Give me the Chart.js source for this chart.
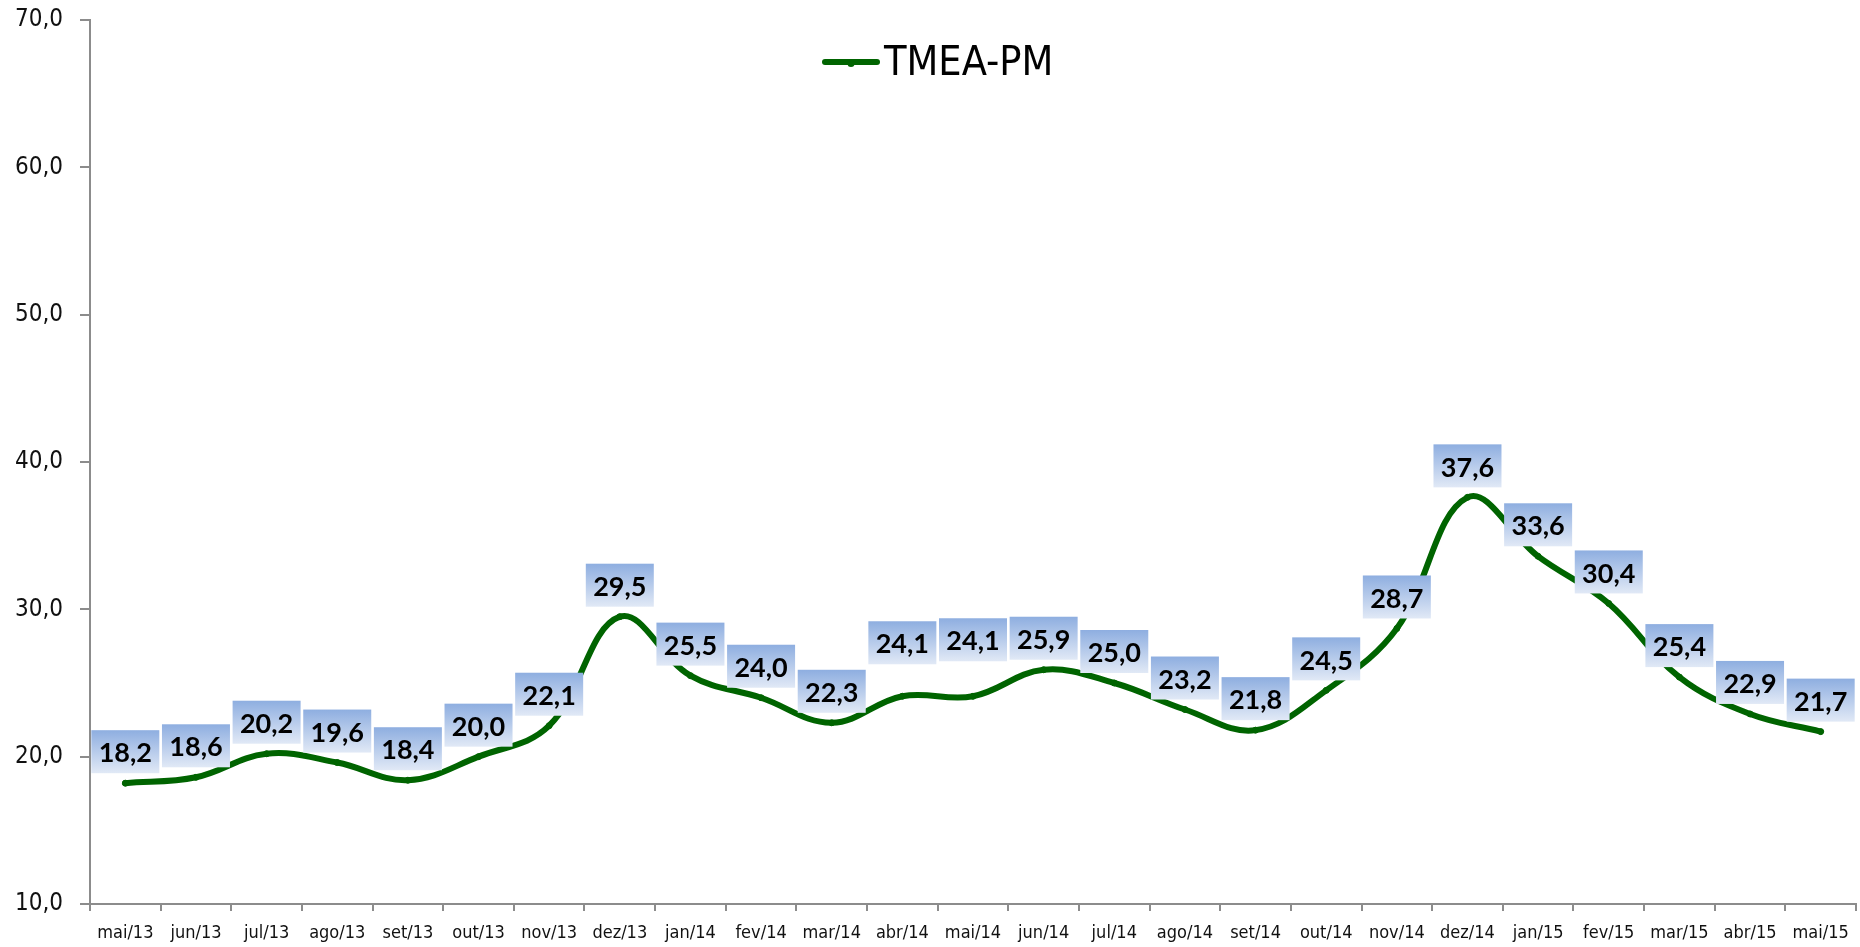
<!DOCTYPE html>
<html>
<head>
<meta charset="utf-8">
<script src="https://cdn.jsdelivr.net/npm/chart.js@4/dist/chart.umd.min.js"></script>
<style>
  html, body { margin: 0; padding: 0; background: #ffffff; }
  #wrap { position: relative; width: 1860px; height: 947px; }
</style>
</head>
<body>
<div id="wrap"><canvas id="c"></canvas></div>
<script>
const categories = ['mai/13','jun/13','jul/13','ago/13','set/13','out/13','nov/13','dez/13','jan/14','fev/14','mar/14','abr/14','mai/14','jun/14','jul/14','ago/14','set/14','out/14','nov/14','dez/14','jan/15','fev/15','mar/15','abr/15','mai/15'];
const seriesName = 'TMEA-PM';
const seriesValues = [18.2,18.6,20.2,19.6,18.4,20.0,22.1,29.5,25.5,24.0,22.3,24.1,24.1,25.9,25.0,23.2,21.8,24.5,28.7,37.6,33.6,30.4,25.4,22.9,21.7];
const yTickValues = [10,20,30,40,50,60,70];

const fmt = v => v.toFixed(1).replace('.', ',');
const GREEN = '#006400';
const AXIS = '#8c8c8c';
const TICK_FONT = "'DejaVu Sans Condensed', 'DejaVu Sans', sans-serif";

const labelPlugin = {
  id: 'boxLabels',
  afterDatasetsDraw(chart, args, opts) {
    const ctx = chart.ctx;
    const meta = chart.getDatasetMeta(0);
    const ds = chart.data.datasets[0];
    ctx.save();
    meta.data.forEach((pt, i) => {
      const w = opts.boxW, h = opts.boxH;
      const lift = opts.lift + (opts.extraLift[i] || 0);
      const bottom = pt.y - lift;
      const top = bottom - h;
      const left = pt.x - w / 2;
      const g = ctx.createLinearGradient(0, top, 0, bottom);
      g.addColorStop(0, opts.topColor);
      g.addColorStop(1, opts.bottomColor);
      ctx.fillStyle = g;
      ctx.fillRect(left, top, w, h);
      ctx.fillStyle = '#000000';
      ctx.font = "bold 27px Lato, 'Open Sans', sans-serif";
      ctx.textAlign = 'center';
      ctx.textBaseline = 'middle';
      ctx.fillText(fmt(ds.data[i]), pt.x, top + h / 2 + 2);
    });
    ctx.restore();
  }
};

const legendPlugin = {
  id: 'manualLegend',
  afterDraw(chart, args, opts) {
    const ctx = chart.ctx;
    const ds = chart.data.datasets[0];
    ctx.save();
    ctx.strokeStyle = ds.borderColor;
    ctx.lineWidth = 6;
    ctx.lineCap = 'round';
    ctx.beginPath();
    ctx.moveTo(opts.x, opts.y);
    ctx.lineTo(opts.x + opts.lineW, opts.y);
    ctx.stroke();
    ctx.fillStyle = ds.borderColor;
    ctx.beginPath();
    ctx.arc(opts.x + opts.lineW / 2, opts.y + 1.5, 3.5, 0, Math.PI * 2);
    ctx.fill();
    ctx.fillStyle = '#000000';
    ctx.font = "41px " + TICK_FONT;
    ctx.textAlign = 'left';
    ctx.textBaseline = 'middle';
    ctx.fillText(ds.label, opts.x + opts.lineW + 7, opts.y + 2);
    ctx.restore();
  }
};

new Chart(document.getElementById('c'), {
  type: 'line',
  data: {
    labels: categories,
    datasets: [{
      label: seriesName,
      data: seriesValues,
      borderColor: GREEN,
      backgroundColor: GREEN,
      borderWidth: 6,
      borderCapStyle: 'round',
      borderJoinStyle: 'round',
      tension: 0.38,
      pointRadius: 3,
      pointBackgroundColor: GREEN,
      pointBorderColor: GREEN,
      pointBorderWidth: 1,
      pointHoverRadius: 3,
      fill: false
    }]
  },
  plugins: [labelPlugin, legendPlugin],
  options: {
    responsive: true,
    maintainAspectRatio: false,
    animation: false,
    events: [],
    layout: { padding: 0 },
    plugins: {
      legend: { display: false },
      tooltip: { enabled: false },
      boxLabels: {
        boxW: 68, boxH: 43, lift: 10,
        extraLift: { 11: 22, 12: 25 },
        topColor: '#8eaee0', bottomColor: '#e1e9f6'
      },
      manualLegend: { x: 825, y: 62, lineW: 52 }
    },
    scales: {
      x: {
        offset: true,
        afterFit(s) { s.height = 43; s.paddingLeft = 0; s.paddingRight = 0; },
        grid: { offset: true, drawOnChartArea: false, drawTicks: true, tickLength: 7, color: AXIS, lineWidth: 2 },
        border: { display: true, color: AXIS, width: 2 },
        ticks: { color: '#111111', font: { family: TICK_FONT, size: 18 }, padding: 12, maxRotation: 0, autoSkip: false }
      },
      y: {
        min: 10, max: 70,
        afterFit(s) { s.width = 90; s.paddingTop = 20; s.paddingBottom = 0; },
        afterBuildTicks(s) { s.ticks = yTickValues.map(v => ({ value: v })); },
        grid: { drawOnChartArea: false, drawTicks: true, tickLength: 10, color: AXIS, lineWidth: 2 },
        border: { display: true, color: AXIS, width: 2 },
        ticks: { color: '#111111', font: { family: TICK_FONT, size: 24 }, padding: 17, callback: v => fmt(v) }
      }
    }
  }
});
</script>
</body>
</html>
